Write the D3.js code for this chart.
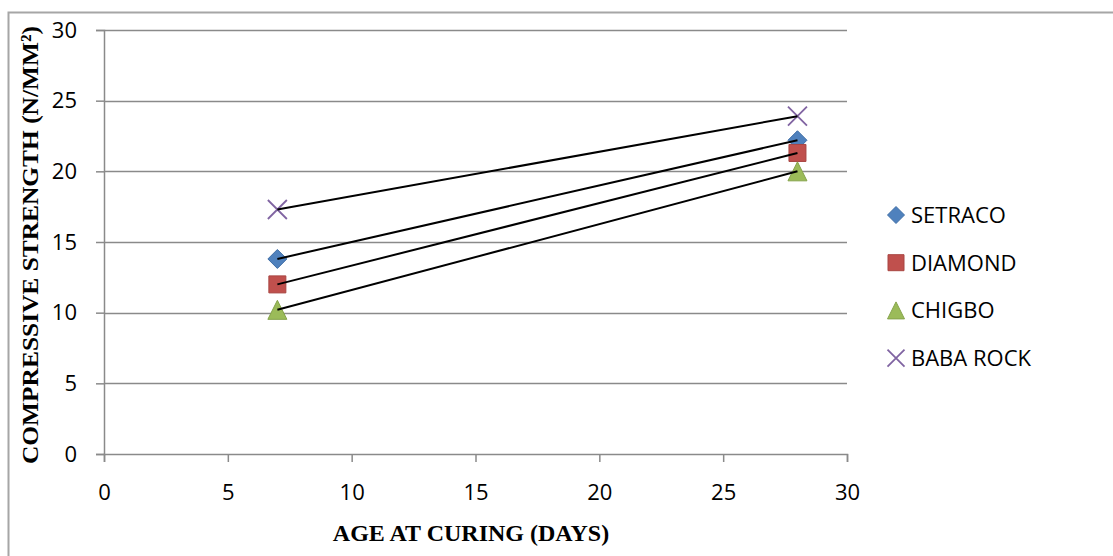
<!DOCTYPE html>
<html>
<head>
  <style>
  body {
    margin: 0;
    background: #fff;
  }
  svg {
    display: block;
  }
  .tick-label {
    font-family: "Open Sans", sans-serif;
    font-size: 22px;
    fill: #000;
  }
  .axis-title {
    font-family: "Liberation Serif", "Times New Roman", serif;
    font-weight: bold;
    font-size: 24px;
    fill: #000;
  }
  .legend text {
    font-family: "Open Sans", sans-serif;
    font-size: 22px;
    fill: #000;
  }
  </style>
</head>
<body>
  <div id="chart"></div>
  <script src="https://d3js.org/d3.v7.min.js"></script>
  <script>
  // curing age in days
  var ages = [7, 28];
  var series = ["SETRACO", "DIAMOND", "CHIGBO", "BABA ROCK"];
  var setraco = [13.8, 22.2];
  var diamond = [12.0, 21.3];
  var chigbo = [10.2, 20.0];
  var babaRock = [17.3, 23.9];
  var xTicks = [0, 5, 10, 15, 20, 25, 30];
  var yTicks = [0, 5, 10, 15, 20, 25, 30];

  var values = [setraco, diamond, chigbo, babaRock];
  var fills = ["#4F81BD", "#C0504D", "#9BBB59", "none"];
  var strokes = ["#3f6ea6", "#a84542", "#85a34a", "#8064A2"];
  var shapes = ["diamond", "square", "triangle", "cross"];

  var width = 1113, height = 556;

  var svg = d3.select("#chart").append("svg")
      .attr("width", width)
      .attr("height", height);

  // outer chart frame (only left and top edges show)
  svg.append("path")
      .attr("d", "M8.5," + height + "V12.5H" + width)
      .attr("fill", "none")
      .attr("stroke", "#a6a6a6")
      .attr("stroke-width", 2);

  var x = d3.scaleLinear().domain([0, 30]).range([104, 847]);
  var y = d3.scaleLinear().domain([0, 30]).range([454, 30]);

  // gridlines
  svg.append("g")
    .selectAll("line")
    .data(yTicks.filter(function(d){ return d > 0; }))
    .enter().append("line")
      .attr("x1", x(0))
      .attr("x2", x(30))
      .attr("y1", function(d){ return Math.round(y(d)) + 0.5; })
      .attr("y2", function(d){ return Math.round(y(d)) + 0.5; })
      .attr("stroke", "#8a8a8a")
      .attr("stroke-width", 1.5);

  // y axis
  var yAxis = d3.axisLeft(y).tickValues(yTicks).tickSize(8).tickPadding(19);
  var gy = svg.append("g")
      .attr("transform", "translate(" + x(0) + ",0)")
      .call(yAxis);
  gy.select(".domain").attr("stroke", "#8a8a8a").attr("stroke-width", 1.5);
  gy.selectAll(".tick line").attr("stroke", "#8a8a8a").attr("stroke-width", 1.5);
  gy.selectAll(".tick text")
      .attr("class", "tick-label")
      .attr("font-family", null)
      .attr("font-size", null);

  // x axis
  var xAxis = d3.axisBottom(x).tickValues(xTicks).tickSize(8).tickPadding(22);
  var gx = svg.append("g")
      .attr("transform", "translate(0," + y(0) + ")")
      .call(xAxis);
  gx.select(".domain").attr("stroke", "#8a8a8a").attr("stroke-width", 1.5);
  gx.selectAll(".tick line").attr("stroke", "#8a8a8a").attr("stroke-width", 1.5);
  gx.selectAll(".tick text")
      .attr("class", "tick-label")
      .attr("font-family", null)
      .attr("font-size", null);

  // axis titles
  svg.append("text")
      .attr("class", "axis-title")
      .attr("text-anchor", "middle")
      .attr("x", 471)
      .attr("y", 541)
      .text("AGE AT CURING (DAYS)");

  svg.append("text")
      .attr("class", "axis-title")
      .attr("text-anchor", "middle")
      .attr("transform", "translate(38,245) rotate(-90)")
      .attr("textLength", 438)
      .attr("lengthAdjust", "spacingAndGlyphs")
      .text("COMPRESSIVE STRENGTH (N/MM\u00b2)");

  function markerPath(shape, r) {
    if (shape == "diamond") return "M0," + (-r) + "L" + r + ",0L0," + r + "L" + (-r) + ",0Z";
    if (shape == "square") return "M" + (-r) + "," + (-r) + "H" + r + "V" + r + "H" + (-r) + "Z";
    if (shape == "triangle") return "M0," + (-r) + "L" + r + "," + r + "H" + (-r) + "Z";
    return "M" + (-r) + "," + (-r) + "L" + r + "," + r + "M" + (-r) + "," + r + "L" + r + "," + (-r);
  }

  // markers
  values.forEach(function(vals, i){
    svg.append("g")
      .selectAll("path")
      .data(vals)
      .enter().append("path")
        .attr("transform", function(d, j){ return "translate(" + x(ages[j]) + "," + y(d) + ")"; })
        .attr("d", markerPath(shapes[i], shapes[i] == "square" ? 8.5 : 9.5))
        .attr("fill", fills[i])
        .attr("stroke", strokes[i])
        .attr("stroke-width", shapes[i] == "cross" ? 1.8 : 1);
  });

  // connecting lines drawn over markers
  var line = d3.line()
      .x(function(d, j){ return x(ages[j]); })
      .y(function(d){ return y(d); });

  values.forEach(function(vals){
    svg.append("path")
        .datum(vals)
        .attr("d", line)
        .attr("fill", "none")
        .attr("stroke", "#000")
        .attr("stroke-width", 2);
  });

  // legend
  var legend = svg.append("g")
      .attr("class", "legend")
      .attr("transform", "translate(896,215)");

  var item = legend.selectAll("g")
      .data(series)
    .enter().append("g")
      .attr("transform", function(d, i){ return "translate(0," + (i * 47.7) + ")"; });

  item.append("path")
      .attr("d", function(d, i){ return markerPath(shapes[i], shapes[i] == "square" ? 8 : 8.5); })
      .attr("fill", function(d, i){ return fills[i]; })
      .attr("stroke", function(d, i){ return strokes[i]; })
      .attr("stroke-width", function(d, i){ return shapes[i] == "cross" ? 1.8 : 1; });

  item.append("text")
      .attr("x", 15)
      .attr("dy", "0.36em")
      .text(function(d){ return d; });
  </script>
</body>
</html>
